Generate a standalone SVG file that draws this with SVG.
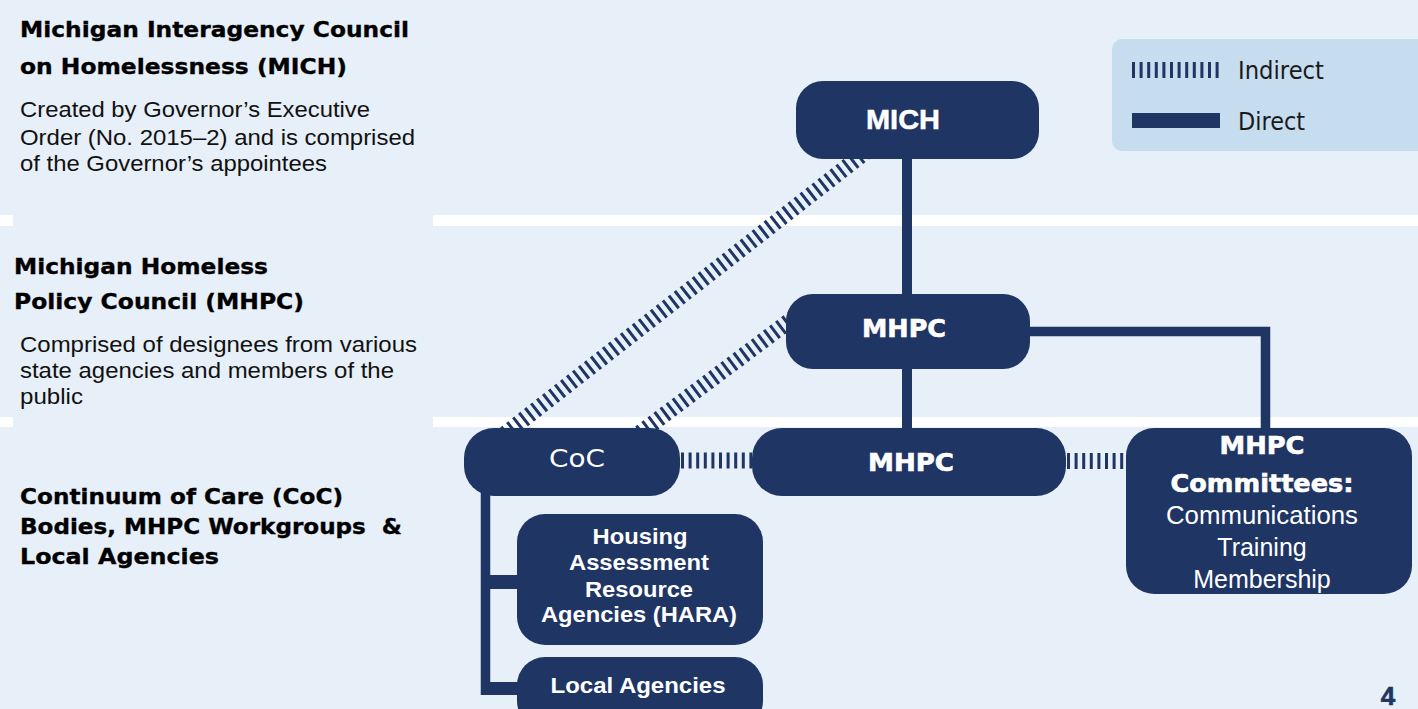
<svg xmlns="http://www.w3.org/2000/svg" width="1418" height="709" viewBox="0 0 1418 709">
  <style>
    .node { fill: #1f3564; }
    .head { font-family: "DejaVu Sans", "Liberation Sans", sans-serif; font-weight: bold; font-size: 22px; fill: #000; stroke: #000; stroke-width: 0.35px; }
    .body { font-family: "Liberation Sans", Arial, sans-serif; font-size: 22px; fill: #111; }
    .lbl  { font-family: "Liberation Sans", Arial, sans-serif; font-weight: bold; fill: #fff; text-anchor: middle; }
    .heavy { font-family: "DejaVu Sans", "Liberation Sans", sans-serif; font-weight: bold; fill: #fff; text-anchor: middle; stroke: #fff; stroke-width: 0.6px; }
    .plain { font-family: "Liberation Sans", Arial, sans-serif; fill: #fff; text-anchor: middle; }
    .geo  { font-family: "DejaVu Sans", "Liberation Sans", sans-serif; }
    .direct { stroke: #1f3564; fill: none; }
    .indirect { stroke: #1f3564; fill: none; stroke-width: 16; stroke-dasharray: 3 4.6; }
  </style>

  <!-- background with white tier separators -->
  <rect x="0" y="0" width="1418" height="709" fill="#e7eff8"/>
  <rect x="0" y="215" width="1418" height="11" fill="#fff"/>
  <rect x="0" y="417" width="1418" height="10" fill="#fff"/>
  <rect x="13" y="0" width="420" height="709" fill="#e7eff8"/>

  <!-- tier descriptions -->
  <g id="tier-mich">
    <text class="head" x="20" y="37" textLength="389" lengthAdjust="spacingAndGlyphs">Michigan Interagency Council</text>
    <text class="head" x="20" y="74" textLength="327" lengthAdjust="spacingAndGlyphs">on Homelessness (MICH)</text>
    <text class="body" x="20" y="117" textLength="350" lengthAdjust="spacingAndGlyphs">Created by Governor’s Executive</text>
    <text class="body" x="20" y="145" textLength="395" lengthAdjust="spacingAndGlyphs">Order (No. 2015–2) and is comprised</text>
    <text class="body" x="20" y="171" textLength="307" lengthAdjust="spacingAndGlyphs">of the Governor’s appointees</text>
  </g>
  <g id="tier-mhpc">
    <text class="head" x="14" y="274" textLength="254" lengthAdjust="spacingAndGlyphs">Michigan Homeless</text>
    <text class="head" x="14" y="309" textLength="290" lengthAdjust="spacingAndGlyphs">Policy Council (MHPC)</text>
    <text class="body" x="20" y="352" textLength="397" lengthAdjust="spacingAndGlyphs">Comprised of designees from various</text>
    <text class="body" x="20" y="378" textLength="374" lengthAdjust="spacingAndGlyphs">state agencies and members of the</text>
    <text class="body" x="20" y="404" textLength="63" lengthAdjust="spacingAndGlyphs">public</text>
  </g>
  <g id="tier-coc">
    <text class="head" x="20" y="504" textLength="323" lengthAdjust="spacingAndGlyphs">Continuum of Care (CoC)</text>
    <text class="head" x="20" y="534" textLength="382" lengthAdjust="spacingAndGlyphs" xml:space="preserve">Bodies, MHPC Workgroups  &amp;</text>
    <text class="head" x="20" y="564" textLength="199" lengthAdjust="spacingAndGlyphs">Local Agencies</text>
  </g>

  <!-- legend -->
  <g id="legend">
    <rect x="1112" y="39" width="320" height="112" rx="10" fill="#c6dcef"/>
    <line class="indirect" x1="1132" y1="70" x2="1220" y2="70" stroke-dasharray="3 5" stroke-width="17"/>
    <text class="geo" x="1238" y="79" font-size="24" fill="#1a1a1a" textLength="86" lengthAdjust="spacingAndGlyphs">Indirect</text>
    <rect x="1132" y="113" width="88" height="15" fill="#1f3564"/>
    <text class="geo" x="1238" y="130" font-size="24" fill="#1a1a1a" textLength="67" lengthAdjust="spacingAndGlyphs">Direct</text>
  </g>

  <!-- connectors -->
  <g id="connectors">
    <!-- indirect links -->
    <line class="indirect" x1="505" y1="434" x2="872" y2="147"/>
    <line class="indirect" x1="640" y1="433" x2="800" y2="313"/>
    <line class="indirect" x1="681" y1="460.5" x2="752" y2="460.5"/>
    <line class="indirect" x1="1067" y1="461" x2="1126" y2="461"/>
    <!-- direct links -->
    <line class="direct" x1="907" y1="155" x2="907" y2="298" stroke-width="10"/>
    <line class="direct" x1="907" y1="365" x2="907" y2="432" stroke-width="10"/>
    <polyline class="direct" points="1026,331.5 1265.5,331.5 1265.5,432" stroke-width="9.5"/>
    <line class="direct" x1="485.5" y1="490" x2="485.5" y2="695" stroke-width="9.5"/>
    <rect x="481" y="575" width="40" height="14" fill="#1f3564"/>
    <rect x="481" y="682" width="40" height="13" fill="#1f3564"/>
  </g>

  <!-- nodes -->
  <g id="node-mich">
    <rect class="node" x="796" y="81" width="243" height="78" rx="27"/>
    <text class="lbl" x="903" y="129" font-size="27" textLength="74" lengthAdjust="spacingAndGlyphs" stroke="#fff" stroke-width="0.5">MICH</text>
  </g>
  <g id="node-mhpc-council">
    <rect class="node" x="786" y="294" width="244" height="75" rx="27"/>
    <text class="heavy" x="904" y="337" font-size="24" textLength="84" lengthAdjust="spacingAndGlyphs">MHPC</text>
  </g>
  <g id="node-coc">
    <rect class="node" x="464" y="428" width="216" height="68" rx="30"/>
    <text class="geo" x="577" y="467" font-size="25" fill="#fff" text-anchor="middle" textLength="56" lengthAdjust="spacingAndGlyphs">CoC</text>
  </g>
  <g id="node-mhpc-workgroups">
    <rect class="node" x="752" y="428" width="314" height="68" rx="30"/>
    <text class="heavy" x="911" y="471" font-size="24" textLength="86" lengthAdjust="spacingAndGlyphs">MHPC</text>
  </g>
  <g id="node-committees">
    <rect class="node" x="1126" y="428" width="286" height="166" rx="28"/>
    <text class="heavy" x="1262" y="454" font-size="24" textLength="85" lengthAdjust="spacingAndGlyphs">MHPC</text>
    <text class="heavy" x="1262" y="492" font-size="24" textLength="183" lengthAdjust="spacingAndGlyphs">Committees:</text>
    <text class="plain" x="1262" y="524" font-size="25" textLength="192" lengthAdjust="spacingAndGlyphs">Communications</text>
    <text class="plain" x="1262" y="556" font-size="25">Training</text>
    <text class="plain" x="1262" y="588" font-size="25">Membership</text>
  </g>
  <g id="node-hara">
    <rect class="node" x="517" y="514" width="246" height="131" rx="28"/>
    <text class="lbl" x="640" y="544" font-size="22" textLength="95" lengthAdjust="spacingAndGlyphs">Housing</text>
    <text class="lbl" x="639" y="570" font-size="22" textLength="140" lengthAdjust="spacingAndGlyphs">Assessment</text>
    <text class="lbl" x="639" y="597" font-size="22" textLength="108" lengthAdjust="spacingAndGlyphs">Resource</text>
    <text class="lbl" x="639" y="622" font-size="22" textLength="196" lengthAdjust="spacingAndGlyphs">Agencies (HARA)</text>
  </g>
  <g id="node-local">
    <rect class="node" x="517" y="657" width="246" height="72" rx="28"/>
    <text class="lbl" x="638" y="693" font-size="22" textLength="175" lengthAdjust="spacingAndGlyphs">Local Agencies</text>
  </g>

  <!-- page number -->
  <text x="1388" y="705" font-family="Liberation Sans, Arial, sans-serif" font-weight="bold" font-size="26" fill="#1f3564" text-anchor="middle" stroke="#1f3564" stroke-width="0.6">4</text>
</svg>
